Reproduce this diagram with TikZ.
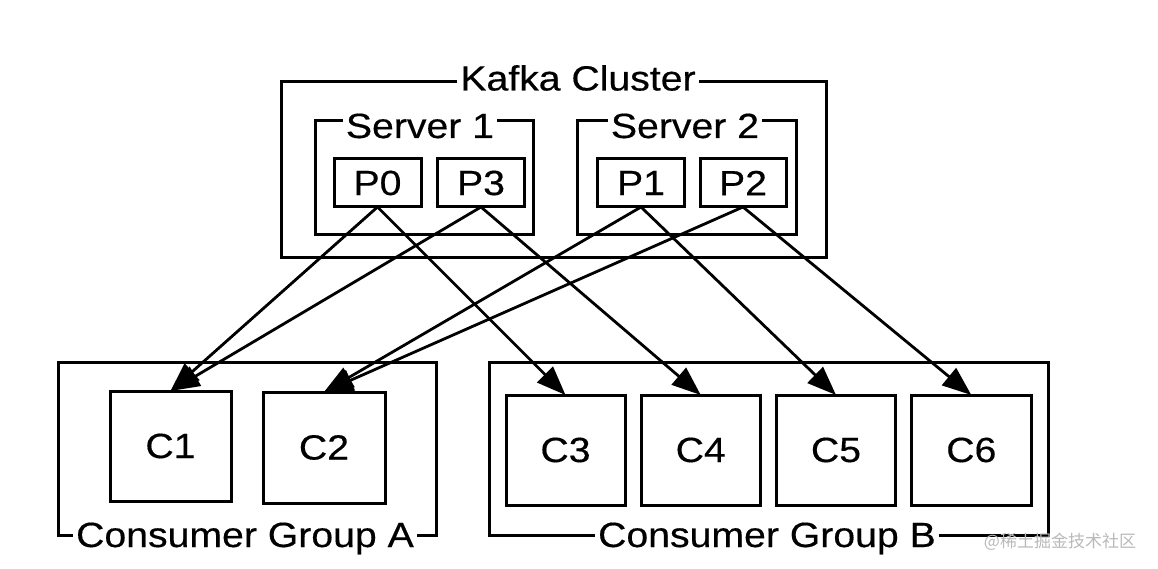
\documentclass[tikz,border=0pt]{standalone}
\usepackage{fontspec}
\setmainfont{Liberation Sans}[FakeStretch=1.12,FakeBold=0.4]
\newfontfamily\cjk{Noto Sans CJK SC}
\usetikzlibrary{arrows.meta}
\begin{document}
\begin{tikzpicture}[x=1pt,y=-1pt,
  every node/.style={font=\fontsize{35}{35}\selectfont},
  frame/.style={draw, line width=3pt, inner sep=0pt, outer sep=0pt},
  part/.style={frame, minimum height=48pt},
  cons/.style={frame, minimum height=110pt},
  title/.style={fill=white, inner xsep=3pt, inner ysep=2pt, text height=26pt, text depth=0pt},
  link/.style={line width=2.8pt, -{Triangle[length=29pt,width=22pt]}}
]
\useasboundingbox (0,0) rectangle (1158,569);
% containers
\node[frame, minimum width=545pt, minimum height=175pt] (kafka) at (553.5,169.5) {};
\node[frame, minimum width=218pt, minimum height=114pt] (s1) at (424,178) {};
\node[frame, minimum width=218.5pt, minimum height=114pt] (s2) at (687,178) {};
\node[frame, minimum width=378pt, minimum height=173pt] (ga) at (247,448.5) {};
\node[frame, minimum width=559.5pt, minimum height=173pt] (gb) at (769,448.5) {};
% container titles
\node[title] (tkafka) at (578,77.5) {Kafka Cluster};
\node[title] (ts1) at (420,125) {Server 1};
\node[title] (ts2) at (685,125) {Server 2};
\node[title] (tga) at (245,534) {Consumer Group A};
\node[title] (tgb) at (767,534) {Consumer Group B};
% partitions
\node[part, minimum width=87pt] (p0) at (377.5,183) {P0};
\node[part, minimum width=87.5pt] (p3) at (481,183) {P3};
\node[part, minimum width=86.5pt] (p1) at (641,183) {P1};
\node[part, minimum width=86pt] (p2) at (743,183) {P2};
% consumers
\node[cons, minimum width=121pt] (c1) at (170.5,446) {C1};
\node[cons, minimum width=122pt, minimum height=111pt] (c2) at (324,447.5) {C2};
\node[cons, minimum width=119pt] (c3) at (565.5,450) {C3};
\node[cons, minimum width=119.5pt] (c4) at (700.75,450) {C4};
\node[cons, minimum width=119pt] (c5) at (836,450) {C5};
\node[cons, minimum width=119.5pt] (c6) at (971.3,450) {C6};
% links
\draw[link] (p0.south) -- (c1.north);
\draw[link] (p3.south) -- (c1.north);
\draw[link] (p1.south) -- (c2.north);
\draw[link] (p2.south) -- (c2.north);
\draw[link] (p0.south) -- (c3.north);
\draw[link] (p3.south) -- (c4.north);
\draw[link] (p1.south) -- (c5.north);
\draw[link] (p2.south) -- (c6.north);
% watermark
\node[font=\cjk\fontsize{17}{17}\selectfont, text=gray!55, inner sep=0pt] (wm) at (1060,542) {@稀土掘金技术社区};
\end{tikzpicture}
\end{document}
